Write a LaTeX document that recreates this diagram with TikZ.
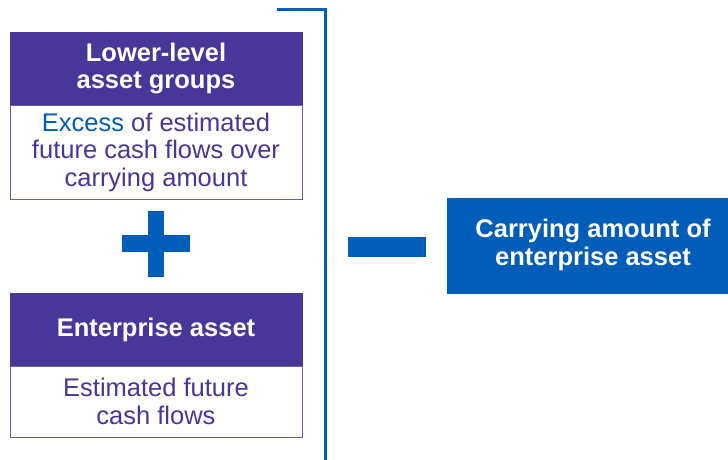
\documentclass[tikz,border=0pt]{standalone}
\usepackage{fontspec}
\setmainfont{Liberation Sans}
\definecolor{kpurple}{HTML}{483698}
\definecolor{kblue}{HTML}{005EB8}
\tikzset{
  hdr/.style={rectangle, fill=kpurple, draw=kpurple, line width=0.8pt, minimum width=292pt, inner sep=0pt, text=white, align=center, font=\fontsize{25.5}{27.5}\selectfont\bfseries},
  bdy/.style={rectangle, fill=white, draw=kpurple!80, line width=0.8pt, minimum width=292pt, inner sep=0pt, text=kpurple, align=center, font=\fontsize{25.5}{27.5}\selectfont},
  bluebar/.style={rectangle, fill=kblue, draw=none, inner sep=0pt},
  res/.style={rectangle, fill=kblue, draw=none, inner sep=0pt},
  restext/.style={inner sep=0pt, text=white, align=center, font=\fontsize{25.5}{27.5}\selectfont\bfseries},
}
\begin{document}
\begin{tikzpicture}[x=1pt,y=-1pt]
\useasboundingbox (0,0) rectangle (728,459);
% top group
\node[hdr, minimum height=73pt] (h1) at (156,68.5) {Lower-level\\asset groups};
\node[bdy, minimum height=94pt] (b1) at (156,152) {\textcolor{kblue}{Excess} of estimated\\future cash flows over\\carrying amount};
% plus
\node[bluebar, minimum width=68pt, minimum height=17pt] (plush) at (156,243.5) {};
\node[bluebar, minimum width=16pt, minimum height=66pt] (plusv) at (156,244) {};
% bottom group
\node[hdr, minimum height=73pt] (h2) at (156,329.5) {Enterprise asset};
\node[bdy, minimum height=71pt] (b2) at (156,401.5) {Estimated future\\cash flows};
% bracket
\coordinate (bt) at (277,9.5);
\coordinate (bc) at (325.5,9.5);
\coordinate (bb) at (325.5,460);
\draw[kblue, line width=2.3pt] (bt) -- (bc) -- (bb);
% minus
\node[bluebar, minimum width=78pt, minimum height=20pt] (minus) at (387,247) {};
% result
\node[res, minimum width=281pt, minimum height=96pt] (r) at (587.5,246) {};
\node[restext] (rt) at (593,245) {Carrying amount of\\enterprise asset};
\end{tikzpicture}
\end{document}
